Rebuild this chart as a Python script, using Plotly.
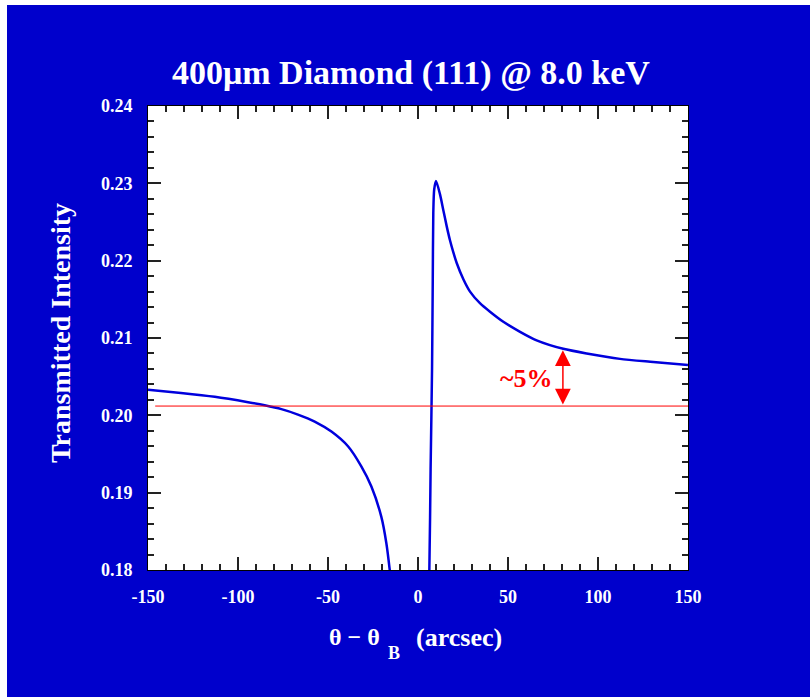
import plotly.graph_objects as go

# ---- data ----
left_x = [-150, -131.7, -112.9, -94.4, -85.2, -75.9, -66.7, -57.4, -48.1, -38.9,
          -31.5, -25.9, -20.4, -17.6, -15.7, -14.0]
left_y = [0.2033, 0.2029, 0.2024, 0.2017, 0.2013, 0.2008, 0.2001, 0.1992, 0.1979, 0.1960,
          0.1934, 0.1908, 0.1869, 0.1835, 0.1800, 0.1760]

right_x = [5.6, 6.3, 7.0, 7.8, 8.2, 8.5, 9.0, 10.0, 12.2, 14.1, 15.9, 17.8, 19.6, 21.5,
           25.2, 28.9, 34.4, 40.0, 47.4, 56.7, 65.9, 80.7, 93.7, 112.2, 130.7, 150]
right_y = [0.1760, 0.1800, 0.1930, 0.2060, 0.2175, 0.2262, 0.2292, 0.2303, 0.2286,
           0.2265, 0.2245, 0.2226, 0.2211, 0.2197, 0.2176, 0.2160, 0.2145, 0.2134,
           0.2121, 0.2108, 0.2097, 0.2086, 0.2080, 0.2073, 0.2069, 0.2065]

ref_x = [-146, 150]
ref_y = [0.2012, 0.2012]

arrow_x = 80.5
arrow_low = 0.2012
arrow_high = 0.2084

x_ticks = [-150, -100, -50, 0, 50, 100, 150]
y_ticks = [0.18, 0.19, 0.20, 0.21, 0.22, 0.23, 0.24]

BLUE = "#0000CC"
SERIF = "Liberation Serif"

W, H = 810, 697
L, R, T, B = 148, 122, 106, 127
PW, PH = W - L - R, H - T - B


def px(xp):
    return (xp - L) / PW


def py(yp):
    return (H - B - yp) / PH


fig = go.Figure()
for xs, ys in ((left_x, left_y), (right_x, right_y)):
    fig.add_trace(go.Scatter(x=xs, y=ys, mode="lines",
                             line=dict(color="#0000DD", width=2.5,
                                       shape="spline", smoothing=0.7),
                             hoverinfo="skip", showlegend=False))
fig.add_trace(go.Scatter(x=ref_x, y=ref_y, mode="lines",
                         line=dict(color="#FF0000", width=1),
                         hoverinfo="skip", showlegend=False))

tickfont = dict(family=SERIF, size=18, color="white", weight="bold")

fig.update_xaxes(range=[-150, 150], tickmode="array", tickvals=x_ticks,
                 ticktext=[str(v) for v in x_ticks],
                 ticks="inside", ticklen=13, tickwidth=1.5, tickcolor="#222",
                 showline=True, linecolor="black", linewidth=1, mirror="ticks",
                 showgrid=False, zeroline=False, tickfont=tickfont,
                 ticklabelstandoff=10,
                 minor=dict(dtick=10, tick0=0, ticklen=6, tickwidth=1.5,
                            tickcolor="#222", ticks="inside", showgrid=False))
fig.update_yaxes(range=[0.18, 0.24], tickmode="array", tickvals=y_ticks,
                 ticktext=["%.2f" % v for v in y_ticks],
                 ticks="inside", ticklen=13, tickwidth=1.5, tickcolor="#222",
                 showline=True, linecolor="black", linewidth=1, mirror="ticks",
                 showgrid=False, zeroline=False, tickfont=tickfont,
                 ticklabelstandoff=11,
                 minor=dict(dtick=0.002, tick0=0.18, ticklen=6, tickwidth=1.5,
                            tickcolor="#222", ticks="inside", showgrid=False))

annotations = [
    dict(text="400μm Diamond (111) @ 8.0 keV", xref="paper", yref="paper",
         x=px(411), y=py(73), xanchor="center", yanchor="middle", showarrow=False,
         font=dict(family=SERIF, size=34, color="white", weight="bold")),
    dict(text="Transmitted Intensity", xref="paper", yref="paper",
         x=px(60), y=py(333), xanchor="center", yanchor="middle", showarrow=False,
         textangle=-90,
         font=dict(family=SERIF, size=28, color="white", weight="bold")),
    dict(text="θ − θ", xref="paper", yref="paper",
         x=px(354), y=py(637), xanchor="center", yanchor="middle", showarrow=False,
         font=dict(family=SERIF, size=24, color="white", weight="bold")),
    dict(text="B", xref="paper", yref="paper",
         x=px(394), y=py(653), xanchor="center", yanchor="middle", showarrow=False,
         font=dict(family=SERIF, size=18, color="white", weight="bold")),
    dict(text="(arcsec)", xref="paper", yref="paper",
         x=px(459), y=py(637), xanchor="center", yanchor="middle", showarrow=False,
         font=dict(family=SERIF, size=26, color="white", weight="bold")),
    dict(text="~5%", xref="x", yref="y", x=60.5, y=0.2048,
         xanchor="center", yanchor="middle", showarrow=False,
         font=dict(family=SERIF, size=26, color="#FF0000", weight="bold")),
    dict(text="", xref="x", yref="y", x=arrow_x, y=arrow_high,
         axref="x", ayref="y", ax=arrow_x, ay=arrow_low,
         showarrow=True, arrowhead=2, startarrowhead=2, arrowside="end+start",
         arrowsize=2.1, startarrowsize=2.1, arrowwidth=1.5, arrowcolor="#FF0000",
         standoff=0, startstandoff=0),
]

shapes = [
    dict(type="rect", xref="paper", yref="paper", x0=px(-5), x1=px(7),
         y0=py(H + 5), y1=py(-5), fillcolor="white", line=dict(width=0)),
    dict(type="rect", xref="paper", yref="paper", x0=px(-5), x1=px(W + 5),
         y0=py(5), y1=py(-5), fillcolor="white", line=dict(width=0)),
]

fig.update_layout(width=W, height=H, autosize=False,
                  margin=dict(l=L, r=R, t=T, b=B, pad=0),
                  paper_bgcolor=BLUE, plot_bgcolor="white",
                  annotations=annotations, shapes=shapes, showlegend=False)

fig.write_html("out.html")
